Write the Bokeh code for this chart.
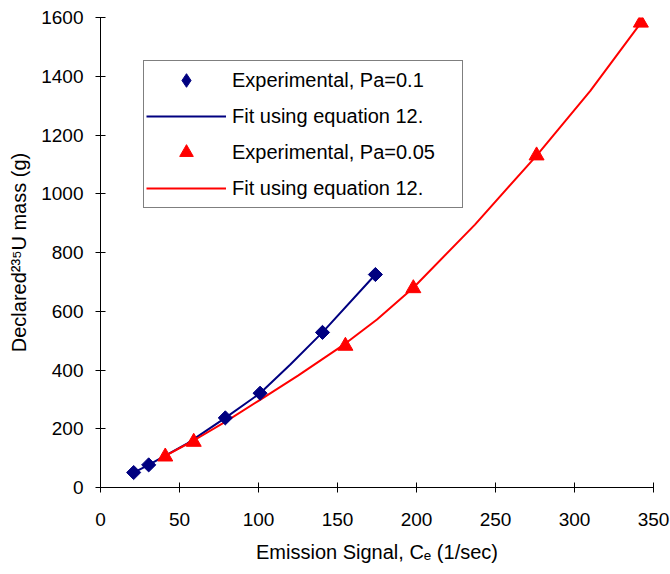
import math
from bokeh.plotting import figure
from bokeh.models import Legend, LegendItem, FixedTicker
from bokeh.embed import file_html
from bokeh.resources import INLINE

# Experimental, Pa=0.1
blue_x = [21, 30.5, 79, 101, 140.5, 174]
blue_y = [51, 77, 237, 321, 528, 725]
# Fit using equation 12 (Pa=0.1)
blue_fit_x = [21, 30.5, 55, 79, 101, 120, 140.5, 174]
blue_fit_y = [51, 77, 150, 237, 321, 418, 528, 725]

# Experimental, Pa=0.05
red_x = [41, 59, 155, 198, 276, 342]
red_y = [105, 155, 482, 678, 1130, 1582]
# Fit using equation 12 (Pa=0.05)
red_fit_x = [41, 59, 80, 100, 125, 155, 175, 198, 237, 276, 310, 342]
red_fit_y = [108, 160, 227, 295, 381, 490, 572, 680, 895, 1130, 1350, 1582]

x_ticks = [0, 50, 100, 150, 200, 250, 300, 350]
y_ticks = [0, 200, 400, 600, 800, 1000, 1200, 1400, 1600]

FONT = "Liberation Sans"
NAVY = "#000080"
RED = "#FF0000"

p = figure(width=670, height=566, output_backend="svg", toolbar_location=None,
           x_range=(0, 350), y_range=(0, 1600),
           min_border_left=100, min_border_right=17, min_border_top=17, min_border_bottom=79)
p.outline_line_color = None
p.xgrid.grid_line_color = None
p.ygrid.grid_line_color = None

bf = p.line(blue_fit_x, blue_fit_y, line_color=NAVY, line_width=2, line_join="round")
rf = p.line(red_fit_x, red_fit_y, line_color=RED, line_width=2, line_join="round")
bs = p.scatter(blue_x, blue_y, marker="square", size=10, angle=math.pi / 4,
               fill_color=NAVY, line_color=NAVY)
rs = p.scatter(red_x, red_y, marker="triangle", size=15,
               fill_color=RED, line_color=RED)
# legend-only swatch for the diamond marker (zero size in the plot)
bs_leg = p.scatter(blue_x, blue_y, marker="diamond", size=0,
                   fill_color=NAVY, line_color=NAVY)

for ax in (p.xaxis[0], p.yaxis[0]):
    ax.axis_line_color = "black"
    ax.major_tick_line_color = "black"
    ax.major_tick_in = 5
    ax.major_tick_out = 5
    ax.minor_tick_line_color = None
    ax.major_label_text_font = FONT
    ax.major_label_text_font_size = "19px"
    ax.major_label_text_color = "black"
    ax.axis_label_text_font = FONT
    ax.axis_label_text_font_size = "20px"
    ax.axis_label_text_font_style = "normal"
    ax.axis_label_text_color = "black"

p.xaxis[0].ticker = FixedTicker(ticks=x_ticks)
p.yaxis[0].ticker = FixedTicker(ticks=y_ticks)
p.xaxis[0].axis_label = "Emission Signal, C\u2091 (1/sec)"
p.yaxis[0].axis_label = "Declared\u00b2\u00b3\u2075U mass (g)"
p.xaxis[0].major_label_standoff = 20
p.xaxis[0].axis_label_standoff = 12
p.yaxis[0].major_label_standoff = 12
p.yaxis[0].axis_label_standoff = 8

legend = Legend(items=[
    LegendItem(label="Experimental, Pa=0.1", renderers=[bs_leg]),
    LegendItem(label="Fit using equation 12.", renderers=[bf]),
    LegendItem(label="Experimental, Pa=0.05", renderers=[rs]),
    LegendItem(label="Fit using equation 12.", renderers=[rf]),
], location=(43, 279))
legend.label_text_font = FONT
legend.label_text_font_size = "20px"
legend.label_text_color = "black"
legend.border_line_color = "black"
legend.border_line_width = 1
legend.background_fill_alpha = 1
legend.padding = 2
legend.margin = 0
legend.spacing = 2
legend.glyph_width = 80
legend.glyph_height = 34
legend.label_height = 34
legend.label_standoff = 6
legend.label_width = 228
p.add_layout(legend, "center")

open("out.html", "w").write(file_html(p, INLINE))
